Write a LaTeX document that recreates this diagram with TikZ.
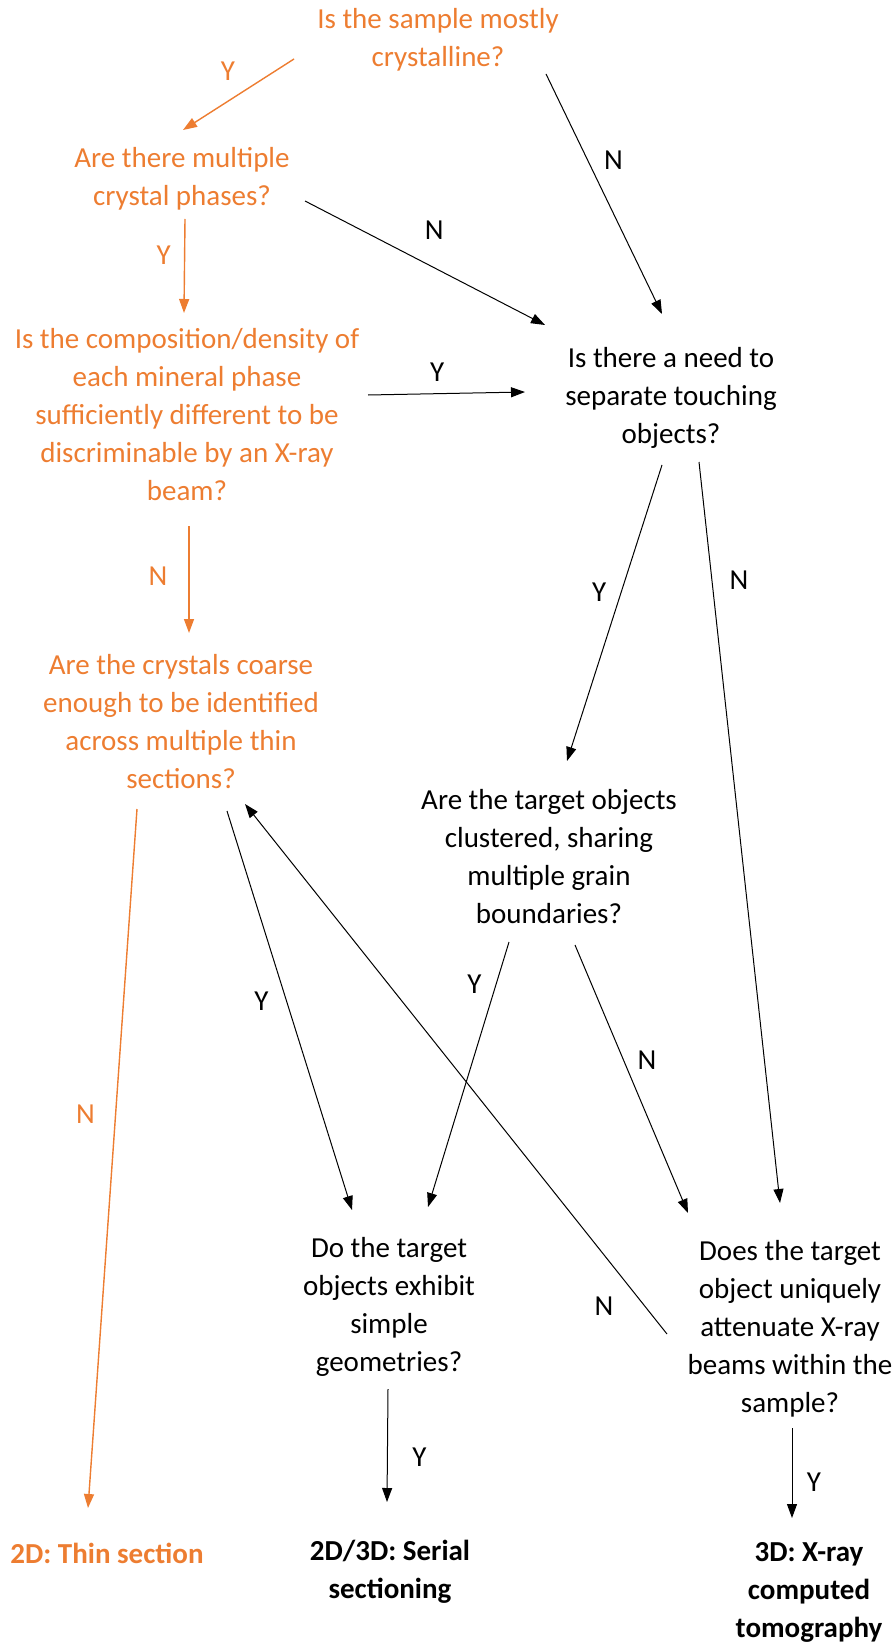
\documentclass[tikz,border=0pt]{standalone}
\usepackage{fontspec}
\setmainfont{Carlito}
\usetikzlibrary{arrows.meta,calc}
\definecolor{accent}{HTML}{ED7D31}
\tikzset{
	question/.style = {
		align=center,
		inner sep=0pt,
		font=\fontsize{14.5}{19}\selectfont
	},
	orquestion/.style = {
		question,
		text=accent
	},
	result/.style = {
		question,
		font=\fontsize{14.5}{19}\selectfont\bfseries
	},
	signal/.style = {
		-{Triangle[length=7pt,width=5pt]},
		line width=0.5pt
	},
	orsignal/.style = {
		signal,
		draw=accent,
		fill=accent,
		line width=0.7pt
	},
	answer/.style = {
		font=\fontsize{14.5}{19}\selectfont,
		inner sep=0pt
	}
}
\begin{document}
\begin{tikzpicture}[x=0.5pt, y=-0.5pt]
	\useasboundingbox (0,0) rectangle (895,1647);
	
	% --- Preguntas ---
	\node [orquestion] (crystalline) at (438,40) {Is the sample mostly\\crystalline?};
	\node [orquestion] (phases) at (182,179) {Are there multiple\\crystal phases?};
	\node [orquestion] (density) at (187,415) {Is the composition/density of\\each mineral phase\\sufficiently different to be\\discriminable by an X-ray\\beam?};
	\node [question] (touching) at (671,398) {Is there a need to\\separate touching\\objects?};
	\node [orquestion] (coarse) at (181,722) {Are the crystals coarse\\enough to be identified\\across multiple thin\\sections?};
	\node [question] (clustered) at (549,857) {Are the target objects\\clustered, sharing\\multiple grain\\boundaries?};
	\node [question] (geometry) at (389,1307) {Do the target\\objects exhibit\\simple\\geometries?};
	\node [question] (attenuate) at (790,1329) {Does the target\\object uniquely\\attenuate X-ray\\beams within the\\sample?};
	
	% --- Resultados ---
	\node [result, text=accent] (thin) at (107,1553) {2D: Thin section};
	\node [result] (serial) at (390,1572) {2D/3D: Serial\\sectioning};
	\node [result] (xct) at (809,1592) {3D: X-ray\\computed\\tomography};
	
	% --- Conexiones ---
	\draw [orsignal] ($(crystalline)+(-144,19)$) -- node[answer, text=accent, pos=0.47, shift={(-14,-21)}] (a1) {Y} ($(phases)+(1,-49)$);
	\draw [signal] ($(crystalline)+(108,34)$) -- node[answer, pos=0.4, shift={(21,-10)}] (a2) {N} ($(touching)+(-9,-84)$);
	\draw [signal] ($(phases)+(123,22)$) -- node[answer, pos=0.48, shift={(14,-30)}] (a3) {N} ($(touching)+(-126,-73)$);
	\draw [orsignal] ($(phases)+(3,40)$) -- node[answer, text=accent, pos=0.39, shift={(-21,0)}] (a4) {Y} ($(density)+(-3,-102)$);
	\draw [signal] ($(density)+(181,-20)$) -- node[answer, pos=0.44, shift={(0,-21)}] (a5) {Y} ($(touching)+(-146,-6)$);
	\draw [orsignal] ($(density)+(2,111)$) -- node[answer, text=accent, pos=0.47, shift={(-31,0)}] (a6) {N} ($(coarse)+(8,-89)$);
	\draw [signal] ($(touching)+(-9,67)$) -- node[answer, pos=0.45, shift={(-20,-6)}] (a7) {Y} ($(clustered)+(18,-96)$);
	\draw [signal] ($(touching)+(28,64)$) -- node[answer, pos=0.16, shift={(27,0)}] (a8) {N} ($(attenuate)+(-10,-126)$);
	\draw [orsignal] ($(coarse)+(-44,87)$) -- node[answer, text=accent, pos=0.44, shift={(-30,-2)}] (a9) {N} ($(thin)+(-19,-45)$);
	\draw [signal] ($(coarse)+(46,89)$) -- node[answer, pos=0.46, shift={(-23,7)}] (a10) {Y} ($(geometry)+(-37,-97)$);
	\draw [signal] ($(clustered)+(-40,85)$) -- node[answer, pos=0.18, shift={(-20,-6)}] (a11) {Y} ($(geometry)+(39,-100)$);
	\draw [signal] ($(clustered)+(26,88)$) -- node[answer, pos=0.46, shift={(20,-8)}] (a12) {N} ($(attenuate)+(-102,-116)$);
	\draw [signal] ($(attenuate)+(-123,5)$) -- node[answer, pos=0.09, shift={(-25,20)}] (a13) {N} ($(coarse)+(64,82)$);
	\draw [signal] ($(geometry)+(-1,82)$) -- node[answer, pos=0.6, shift={(32,0)}] (a14) {Y} ($(serial)+(-3,-70)$);
	\draw [signal] ($(attenuate)+(2,99)$) -- node[answer, pos=0.6, shift={(22,0)}] (a15) {Y} ($(xct)+(-17,-74)$);
	
\end{tikzpicture}
\end{document}
